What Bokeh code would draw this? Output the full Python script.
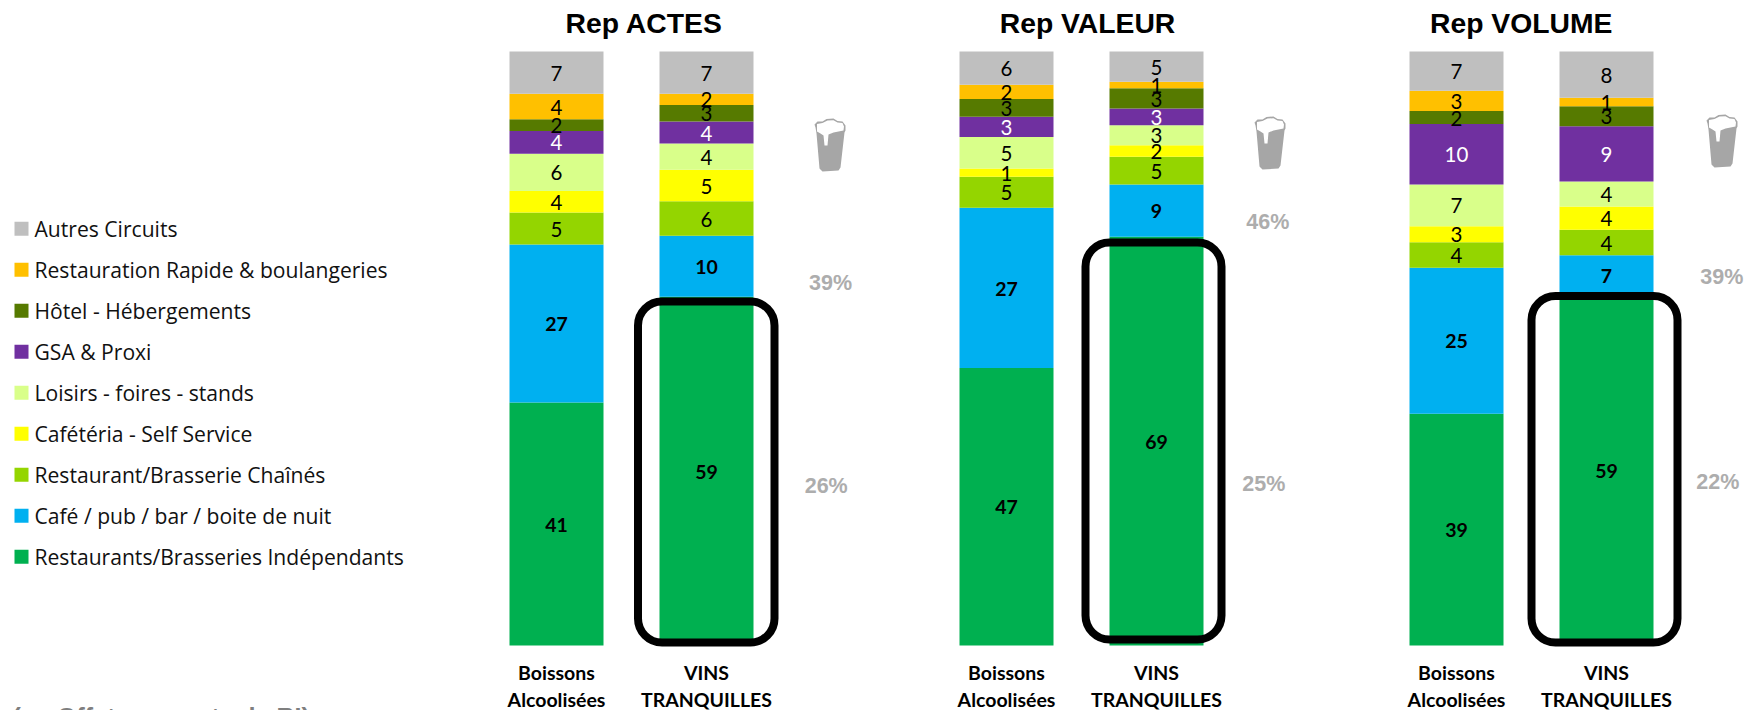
from bokeh.core.properties import value
from bokeh.embed import file_html
from bokeh.layouts import row
from bokeh.models import ColumnDataSource, Range1d
from bokeh.plotting import figure
from bokeh.resources import INLINE

# Circuits, listed from the top of each stack to its base
CIRCUITS = [
    "Autres Circuits",
    "Restauration Rapide & boulangeries",
    "Hôtel - Hébergements",
    "GSA & Proxi",
    "Loisirs - foires - stands",
    "Cafétéria - Self Service",
    "Restaurant/Brasserie Chaînés",
    "Café / pub / bar / boite de nuit",
    "Restaurants/Brasseries Indépendants",
]
COLORS = ["#BFBFBF", "#FFC000", "#567A00", "#7030A0", "#D9FF8A",
          "#FFFF00", "#94D500", "#00B0F0", "#00B050"]
CATEGORIES = ["Boissons\nAlcoolisées", "VINS\nTRANQUILLES"]

ACTES_BOISSONS = [7.1, 4.3, 2.0, 3.8, 6.3, 3.6, 5.4, 26.6, 40.9]
ACTES_VINS = [7.1, 1.9, 2.8, 3.7, 4.4, 5.3, 5.8, 10.3, 58.7]
VALEUR_BOISSONS = [5.6, 2.4, 3.0, 3.4, 5.3, 1.4, 5.2, 27.0, 46.7]
VALEUR_VINS = [5.1, 1.1, 3.4, 2.8, 3.4, 1.9, 4.7, 8.8, 68.8]
VOLUME_BOISSONS = [6.6, 3.4, 2.2, 10.2, 7.0, 2.7, 4.3, 24.6, 39.0]
VOLUME_VINS = [7.8, 1.4, 3.4, 9.3, 4.2, 3.9, 4.3, 6.7, 59.0]

TITLES = ["Rep ACTES", "Rep VALEUR", "Rep VOLUME"]
SHARE_UPPER = ["39%", "46%", "39%"]
SHARE_LOWER = ["26%", "25%", "22%"]
FOOTNOTE = "(en Offet sur vente de RI)"

# Page layout, in pixels
BASE_PY = 645.0
PX_PER_PCT = 5.94
PX_PER_CAT = 150.0
BAR_WIDTH = 94 / PX_PER_CAT
HEIGHT = 710
FIRST_BAR_OFFSET = 76.0

PANELS = [
    dict(left=480, width=450, title_px=643.7, boissons=ACTES_BOISSONS, vins=ACTES_VINS,
         box=(637.5, 774.0, 301.0, 642.0), upper=(830.0, 282.7), lower=(825.7, 485.7), icon=(814, 118)),
    dict(left=930, width=450, title_px=1087.0, boissons=VALEUR_BOISSONS, vins=VALEUR_VINS,
         box=(1085.0, 1221.0, 242.0, 639.0), upper=(1267.3, 221.7), lower=(1263.3, 483.3), icon=(1254, 116)),
    dict(left=1380, width=375, title_px=1520.7, boissons=VOLUME_BOISSONS, vins=VOLUME_VINS,
         box=(1531.0, 1677.0, 295.5, 642.0), upper=(1721.3, 276.7), lower=(1717.3, 481.7), icon=(1706, 114)),
]

# Beer glass pictogram outlines, in pixels from the icon's top-left corner
GLASS = [(1, 9), (0, 6), (3, 3), (8, 3), (12, 0.5), (19, 0), (23, 2.5), (28, 3), (31, 7), (31, 12),
         (30, 14), (26, 49), (24, 52), (8, 53), (5, 50), (2, 15)]
FOAM = [(2.5, 8), (2.5, 5.5), (8, 4.5), (13, 2), (19, 1.8), (23, 4), (28, 4.5), (29.5, 8), (29, 12),
        (19, 14), (14, 16), (13, 27), (10, 27), (9, 17), (6, 15), (2.5, 13)]

LATO = value("Lato")
ARIAL = value("Liberation Sans")


def y_of(py):
    return (BASE_PY - py) / PX_PER_PCT


def make_figure(width, x_range, y_range):
    p = figure(width=width, height=HEIGHT, x_range=x_range, y_range=y_range,
               output_backend="svg", toolbar_location=None, min_border=0)
    p.axis.visible = False
    p.grid.visible = False
    p.outline_line_color = None
    return p


def draw_panel(cfg):
    left = cfg["left"]
    origin = left + FIRST_BAR_OFFSET
    x_of = lambda px: (px - origin) / PX_PER_CAT
    p = make_figure(cfg["width"],
                    Range1d(x_of(left), x_of(left + cfg["width"])),
                    Range1d(y_of(HEIGHT), y_of(0)))

    # Stacked bars are built from the base upward
    names = [f"c{i}" for i in range(len(CIRCUITS))]
    data = {"x": [0, 1]}
    for i, name in enumerate(names):
        data[name] = [cfg["boissons"][i], cfg["vins"][i]]
    source = ColumnDataSource(data)
    p.vbar_stack(names[::-1], x="x", width=BAR_WIDTH, source=source,
                 color=COLORS[::-1], line_color=None)

    # Value labels sit at the middle of their segment
    nudge = 0.6 / PX_PER_PCT
    for xpos, values in ((0, cfg["boissons"]), (1, cfg["vins"])):
        level = 0.0
        for i in range(len(values) - 1, -1, -1):
            mid = level + values[i] / 2
            level += values[i]
            bold = i >= 7
            p.text([xpos], [mid - nudge], text=[f"{values[i]:.0f}"], text_font=LATO,
                   text_font_size="19.5px" if bold else "20.5px",
                   text_align="center", text_baseline="middle",
                   text_color="white" if CIRCUITS[i] == "GSA & Proxi" else "black",
                   text_font_style="bold" if bold else "normal")

    # Outline around the still wines' independent-restaurant segment
    bl, br, bt, bb = cfg["box"]
    p.quad(left=[x_of(bl)], right=[x_of(br)], top=[y_of(bt)], bottom=[y_of(bb)],
           fill_color=None, line_color="black", line_width=8, border_radius=24)

    # Panel title, category names and evolution shares
    p.text([x_of(cfg["title_px"])], [y_of(22)], text=[cfg["title"]], text_font=ARIAL,
           text_font_size="28.3px", text_font_style="bold", text_align="center",
           text_baseline="middle", text_color="black")
    p.text([0, 1], [y_of(685.5)] * 2, text=CATEGORIES, text_font=LATO, text_font_size="19.5px",
           text_font_style="bold", text_align="center", text_baseline="middle",
           text_color="black", text_line_height=1.18)
    for (sx, sy), share in ((cfg["upper"], cfg["upper_text"]), (cfg["lower"], cfg["lower_text"])):
        p.text([x_of(sx)], [y_of(sy)], text=[share], text_font=ARIAL, text_font_size="21.5px",
               text_font_style="bold", text_align="center", text_baseline="middle",
               text_color="#ADADAD")

    # Beer glass pictogram
    ix, iy = cfg["icon"]
    p.patch([x_of(ix + a) for a, _ in GLASS], [y_of(iy + b) for _, b in GLASS],
            fill_color="#A6A6A6", line_color=None)
    p.patch([x_of(ix + a) for a, _ in FOAM], [y_of(iy + b) for _, b in FOAM],
            fill_color="white", line_color=None)
    return p


def draw_legend():
    p = make_figure(480, Range1d(0, 480), Range1d(HEIGHT, 0))
    rows = [228.3 + 41 * i for i in range(len(CIRCUITS))]
    p.scatter([21] * len(CIRCUITS), rows, marker="square", size=14, color=COLORS, line_color=None)
    p.text([34] * len(CIRCUITS), rows, text=CIRCUITS, text_font=value("Open Sans"),
           text_font_size="21.1px", text_align="left", text_baseline="middle", text_color="#111111")
    p.text([12], [702], text=[FOOTNOTE], text_font=ARIAL, text_font_size="25px",
           text_font_style="bold", text_align="left", text_baseline="top", text_color="#7F7F7F")
    return p


panels = []
for k, cfg in enumerate(PANELS):
    cfg.update(title=TITLES[k], upper_text=SHARE_UPPER[k], lower_text=SHARE_LOWER[k])
    panels.append(draw_panel(cfg))

layout = row(draw_legend(), *panels, spacing=0)
open("out.html", "w").write(file_html(layout, INLINE))
